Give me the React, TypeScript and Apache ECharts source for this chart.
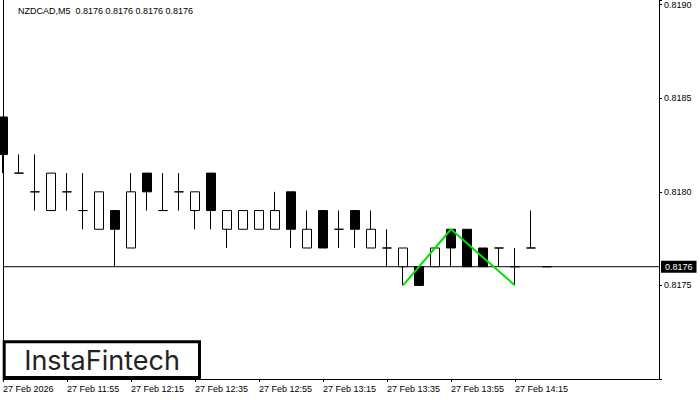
import React, { useEffect, useRef } from 'react';
import * as echarts from 'echarts';

const symbol = 'NZDCAD';
const timeframe = 'M5';
const dayLabel = '27 Feb';
const yearLabel = '2026';

const times = [
  '11:35', '11:40', '11:45', '11:50', '11:55', '12:00', '12:05', '12:10', '12:15', '12:20',
  '12:25', '12:30', '12:35', '12:40', '12:45', '12:50', '12:55', '13:00', '13:05', '13:10',
  '13:15', '13:20', '13:25', '13:30', '13:35', '13:40', '13:45', '13:50', '13:55', '14:00',
  '14:05', '14:10', '14:15', '14:20', '14:25',
];
const futureSlots = ['14:30', '14:35', '14:40', '14:45', '14:50', '14:55', '15:00'];

const opens = [
  0.8184, 0.8181, 0.818, 0.8179, 0.818, 0.8179, 0.8178, 0.8179, 0.8177, 0.8181,
  0.8179, 0.818, 0.8179, 0.8181, 0.8178, 0.8178, 0.8178, 0.8178, 0.818, 0.8177,
  0.8179, 0.8178, 0.8179, 0.8177, 0.8177, 0.8176, 0.8176, 0.8176, 0.8178, 0.8178,
  0.8177, 0.8177, 0.8176, 0.8177, 0.8176,
];
const highs = [
  0.8184, 0.8182, 0.8182, 0.8181, 0.8181, 0.8181, 0.818, 0.8179, 0.8181, 0.8181,
  0.8181, 0.8181, 0.818, 0.8181, 0.8179, 0.8179, 0.8179, 0.818, 0.818, 0.8179,
  0.8179, 0.8179, 0.8179, 0.8179, 0.8178, 0.8177, 0.8176, 0.8177, 0.8178, 0.8178,
  0.8177, 0.8177, 0.8177, 0.8179, 0.8176,
];
const lows = [
  0.8181, 0.8181, 0.8179, 0.8179, 0.8179, 0.8178, 0.8178, 0.8176, 0.8177, 0.8179,
  0.8179, 0.8179, 0.8178, 0.8178, 0.8177, 0.8178, 0.8178, 0.8178, 0.8177, 0.8177,
  0.8177, 0.8177, 0.8177, 0.8177, 0.8176, 0.8175, 0.8175, 0.8176, 0.8176, 0.8176,
  0.8176, 0.8176, 0.8175, 0.8177, 0.8176,
];
const closes = [
  0.8182, 0.8181, 0.818, 0.8181, 0.818, 0.8179, 0.818, 0.8178, 0.818, 0.818,
  0.8179, 0.818, 0.818, 0.8179, 0.8179, 0.8179, 0.8179, 0.8179, 0.8178, 0.8178,
  0.8177, 0.8178, 0.8178, 0.8178, 0.8177, 0.8177, 0.8175, 0.8177, 0.8177, 0.8176,
  0.8176, 0.8177, 0.8176, 0.8177, 0.8176,
];

// Double-top pattern (green zig-zag)
const patternIdx = [25, 28, 32];
const patternPrice = [0.8175, 0.8178, 0.8175];

const yMin = 0.817;
const yMax = 0.819025;
const yInterval = 0.0005;

const FONT = 'Liberation Sans';

export default function App() {
  const ref = useRef<HTMLDivElement>(null);

  useEffect(() => {
    if (!ref.current) return;
    const chart = echarts.init(ref.current, null, { renderer: 'svg' });
    const n = times.length;
    const categories = [...times, ...futureSlots];
    const candleData = opens.map((o, i) => [o, closes[i], lows[i], highs[i]]);
    const last = n - 1;
    const lastClose = closes[last];
    const titleText = `${symbol},${timeframe}  ${opens[last].toFixed(4)} ${highs[last].toFixed(4)} ${lows[last].toFixed(4)} ${closes[last].toFixed(4)}`;
    const showIdx = (idx: number) => idx % 4 === 0 && idx < n;

    const option: any = {
      animation: false,
      backgroundColor: '#fff',
      grid: { left: 3, right: 41, top: 0, bottom: 21, containLabel: false },
      xAxis: {
        type: 'category',
        data: categories,
        boundaryGap: false,
        axisLine: { show: true, lineStyle: { color: '#000', width: 1 } },
        axisTick: { show: true, length: 3, interval: (idx: number) => showIdx(idx), lineStyle: { color: '#000' } },
        axisLabel: {
          show: true,
          interval: (idx: number) => showIdx(idx),
          align: 'left',
          margin: 5,
          color: '#000',
          fontSize: 9,
          fontFamily: FONT,
          formatter: (val: string, idx: number) =>
            idx >= n ? '' : idx === 0 ? `${dayLabel} ${yearLabel}` : `${dayLabel} ${val}`,
        },
        splitLine: { show: false },
      },
      yAxis: [
        {
          type: 'value',
          position: 'right',
          min: yMin,
          max: yMax,
          interval: yInterval,
          axisLine: { show: true, lineStyle: { color: '#000', width: 1 } },
          axisTick: { show: true, length: 3, lineStyle: { color: '#000' } },
          axisLabel: {
            show: true,
            margin: 5,
            color: '#000',
            fontSize: 9,
            fontFamily: FONT,
            formatter: (v: number) => {
              const k = v / yInterval;
              if (Math.abs(k - Math.round(k)) > 1e-4) return '';
              if (v < yMin + yInterval / 2) return '';
              return v.toFixed(4);
            },
          },
          splitLine: { show: false },
        },
        {
          type: 'value',
          position: 'left',
          min: yMin,
          max: yMax,
          interval: yInterval,
          axisLine: { show: true, lineStyle: { color: '#000', width: 1 } },
          axisTick: { show: false },
          axisLabel: { show: false },
          splitLine: { show: false },
        },
      ],
      series: [
        {
          // current bid line spanning the whole chart
          type: 'line',
          data: [[0, lastClose], [categories.length - 1, lastClose]],
          yAxisIndex: 0,
          symbol: 'none',
          silent: true,
          lineStyle: { color: '#000', width: 1 },
          z: 1,
          endLabel: {
            show: true,
            distance: 2,
            formatter: () => lastClose.toFixed(4),
            backgroundColor: '#000',
            color: '#fff',
            padding: [2, 4, 1, 4],
            fontSize: 9,
            fontFamily: FONT,
          },
        },
        {
          type: 'candlestick',
          data: candleData,
          barWidth: 10,
          yAxisIndex: 0,
          z: 2,
          itemStyle: {
            color: '#fff',
            color0: '#000',
            borderColor: '#000',
            borderColor0: '#000',
            borderColorDoji: '#000',
            borderWidth: 1,
          },
        },
        {
          type: 'line',
          data: patternIdx.map((i, k) => [i, patternPrice[k]]),
          yAxisIndex: 0,
          symbol: 'none',
          lineStyle: { color: '#00e000', width: 2 },
          z: 5,
        },
      ],
      graphic: [
        {
          type: 'text',
          left: 18,
          top: 6,
          style: { text: titleText, font: `9px "${FONT}"`, fill: '#000' },
        },
        {
          type: 'rect',
          shape: { x: 4.2, y: 341.8, width: 195.3, height: 35.7 },
          style: { fill: '#fff', stroke: '#000', lineWidth: 3 },
          z: 10,
        },
        {
          type: 'text',
          x: 102,
          y: 360,
          style: {
            text: 'InstaFintech',
            font: '400 27px Inter',
            fill: '#222',
            align: 'center',
            verticalAlign: 'middle',
          },
          z: 11,
        },
      ],
    };
    chart.setOption(option);
    return () => chart.dispose();
  }, []);

  return (
    <div
      ref={ref}
      style={{ position: 'fixed', left: 0, top: 0, width: 700, height: 400, background: '#fff' }}
    />
  );
}
